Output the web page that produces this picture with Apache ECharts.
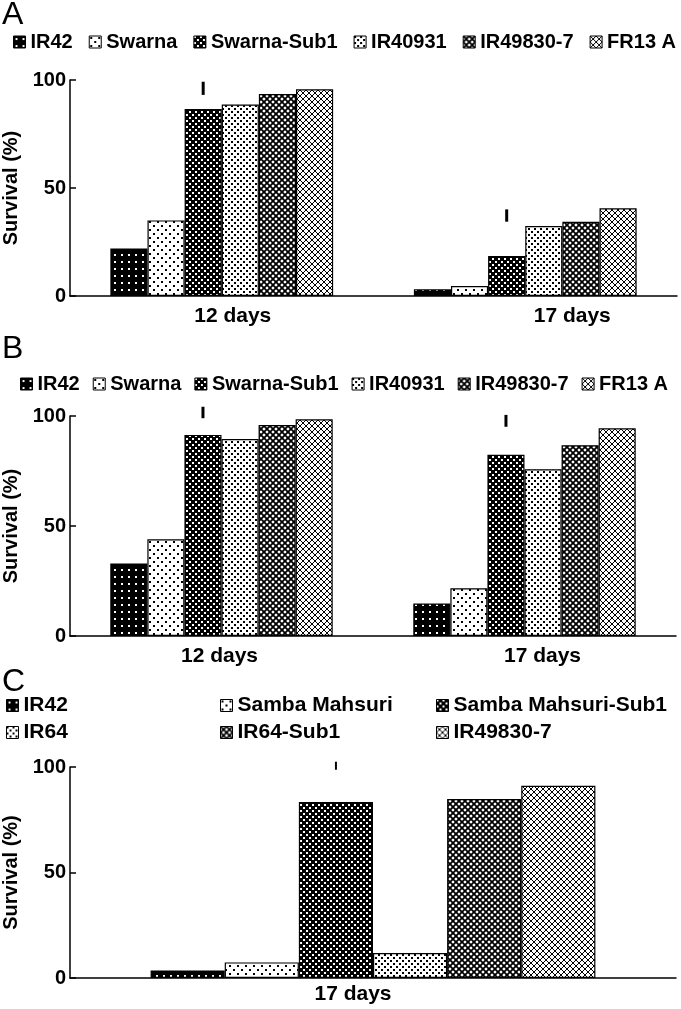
<!DOCTYPE html>
<html>
<head>
<meta charset="utf-8">
<title>Survival</title>
<script src="https://cdn.jsdelivr.net/npm/echarts@6.0.0/dist/echarts.min.js"></script>
<style>
  html, body { margin: 0; padding: 0; background: #fff; }
  #main { width: 681px; height: 1009px; }
</style>
</head>
<body>
<div id="main"></div>
<script>
// categories
const daysAB = ['12 days', '17 days'];
const daysC = ['17 days'];
const linesAB = ['IR42', 'Swarna', 'Swarna-Sub1', 'IR40931', 'IR49830-7', 'FR13 A'];
const linesC = ['IR42', 'Samba Mahsuri', 'Samba Mahsuri-Sub1', 'IR64', 'IR64-Sub1', 'IR49830-7'];

// survival (%) per line, one array per panel/day
const survA12 = [22, 35, 86.6, 88.6, 93.5, 95.7];
const survA17 = [3.1, 4.6, 18.5, 32.4, 34.4, 40.6];
const survB12 = [33, 44, 91.4, 89.5, 95.9, 98.5];
const survB17 = [14.8, 21.7, 82.4, 75.8, 86.7, 94.4];
const survC17 = [3.6, 7.4, 83.4, 11.8, 84.8, 91.1];

// error bar [low, high] per day (drawn over the Sub1 bar)
const errA = [[93.1, 99.2], [34.4, 40.1]];
const errB = [[99, 104.2], [95.1, 100.5]];
const errC = [[98.7, 102.5]];

const FONT = 'Liberation Sans, Arial, sans-serif';
const GAP = 0.266;
const ERR_SLOT = 2;

// fill patterns
function tile(size, bg, draw) {
  const c = document.createElement('canvas');
  c.width = c.height = size;
  const g = c.getContext('2d');
  g.fillStyle = bg;
  g.fillRect(0, 0, size, size);
  draw(g, size);
  return { image: c, repeat: 'repeat' };
}
function dots(size, bg, fg, pts, d) {
  return tile(size, bg, function (g) {
    g.fillStyle = fg;
    pts.forEach(function (p) { g.fillRect(p[0], p[1], d, d); });
  });
}
function hatch(size, w) {
  return tile(size, '#fff', function (g, s) {
    g.strokeStyle = '#000';
    g.lineWidth = w;
    g.beginPath();
    g.moveTo(-1, -1); g.lineTo(s + 1, s + 1);
    g.moveTo(s + 1, -1); g.lineTo(-1, s + 1);
    g.stroke();
  });
}
const fills = [
  dots(7, '#000', '#fff', [[2, 2]], 2),
  dots(8, '#fff', '#000', [[1, 1], [5, 5]], 2),
  dots(6, '#000', '#fff', [[0, 0], [3, 3]], 2),
  dots(6, '#fff', '#000', [[0, 0], [3, 3]], 2),
  hatch(6, 1.8),
  hatch(6, 1)
];

function barSeries(names, valsByDay, idx) {
  return names.map(function (n, i) {
    return {
      name: n,
      type: 'bar',
      xAxisIndex: idx,
      yAxisIndex: idx,
      barGap: 0,
      barCategoryGap: (GAP * 100) + '%',
      itemStyle: { color: fills[i], borderColor: '#000', borderWidth: 1.2 },
      emphasis: { disabled: true },
      data: valsByDay.map(function (v) { return v[i]; })
    };
  });
}

function errSeries(err, idx, w) {
  return {
    type: 'custom',
    xAxisIndex: idx,
    yAxisIndex: idx,
    clip: false,
    silent: true,
    encode: { x: 0, y: [1, 2] },
    data: err.map(function (e, k) { return [k, e[0], e[1]]; }),
    renderItem: function (params, api) {
      const cat = api.value(0);
      const band = api.size([1, 0])[0];
      const inner = band * (1 - GAP);
      const cx = api.coord([cat, 0])[0] - inner / 2 + inner / 6 * (ERR_SLOT + 0.5);
      const y1 = api.coord([cat, api.value(2)])[1];
      const y2 = api.coord([cat, api.value(1)])[1];
      return {
        type: 'line',
        shape: { x1: cx, y1: y1, x2: cx, y2: y2 },
        style: { stroke: '#000', lineWidth: w }
      };
    }
  };
}

function legendItems(names, idxs) {
  return idxs.map(function (i) {
    return { name: names[i], itemStyle: { color: fills[i], borderColor: '#000', borderWidth: 1 } };
  });
}
function legend(names, idxs, left, top, size, gap, orient) {
  return {
    orient: orient || 'horizontal',
    left: left, top: top, padding: 0,
    itemGap: gap, itemWidth: 12, itemHeight: 12,
    icon: 'rect', selectedMode: false,
    textStyle: { fontFamily: FONT, fontWeight: 'bold', fontSize: size, color: '#000', lineHeight: size },
    data: legendItems(names, idxs)
  };
}

function xAxis(idx, days, shifts) {
  return {
    type: 'category',
    gridIndex: idx,
    data: days.map(function (d, k) {
      const s = shifts[k];
      return { value: d, textStyle: { padding: s >= 0 ? [0, 0, 0, 2 * s] : [0, -2 * s, 0, 0] } };
    }),
    axisLine: { lineStyle: { color: '#000', width: 1.5 } },
    axisTick: { inside: true, length: 7, lineStyle: { color: '#000', width: 1.5 } },
    axisLabel: { fontFamily: FONT, fontWeight: 'bold', fontSize: 21, color: '#000', margin: idx === 2 ? 6 : 10 },
    splitLine: { show: false }
  };
}
function yAxis(idx) {
  return {
    type: 'value',
    gridIndex: idx,
    min: 0, max: 100, interval: 50,
    name: 'Survival (%)',
    nameLocation: 'middle',
    nameRotate: 90,
    nameGap: 48,
    nameTextStyle: { fontFamily: FONT, fontWeight: 'bold', fontSize: 20, color: '#000' },
    axisLine: { show: true, lineStyle: { color: '#000', width: 1.5 } },
    axisTick: { show: true, inside: true, length: 6, lineStyle: { color: '#000', width: 1.5 } },
    axisLabel: { fontFamily: FONT, fontWeight: 'bold', fontSize: 20, color: '#000', margin: 4 },
    splitLine: { show: false }
  };
}

const panelTitle = function (t, top) {
  return { text: t, left: 2, top: top, padding: 0,
    textStyle: { fontFamily: FONT, fontWeight: 'normal', fontSize: 32, color: '#000' } };
};

const option = {
  animation: false,
  backgroundColor: '#fff',
  title: [panelTitle('A', -1), panelTitle('B', 333), panelTitle('C', 666)],
  legend: [
    legend(linesAB, [0, 1, 2, 3, 4, 5], 13, 32, 20, 16),
    legend(linesAB, [0, 1, 2, 3, 4, 5], 20, 374, 20, 13),
    legend(linesC, [0, 3], 6, 695, 21, 6, 'vertical'),
    legend(linesC, [1, 4], 220, 695, 21, 6, 'vertical'),
    legend(linesC, [2, 5], 436, 695, 21, 6, 'vertical')
  ],
  grid: [
    { left: 70, right: 4, top: 80, height: 216, outerBoundsMode: 'none' },
    { left: 70, right: 5, top: 416, height: 220, outerBoundsMode: 'none' },
    { left: 70, right: 5, top: 767, height: 211, outerBoundsMode: 'none' }
  ],
  xAxis: [xAxis(0, daysAB, [11, 47]), xAxis(1, daysAB, [-2, 18]), xAxis(2, daysC, [-20])],
  yAxis: [yAxis(0), yAxis(1), yAxis(2)],
  series: [].concat(
    barSeries(linesAB, [survA12, survA17], 0),
    barSeries(linesAB, [survB12, survB17], 1),
    barSeries(linesC, [survC17], 2),
    [errSeries(errA, 0, 3), errSeries(errB, 1, 3), errSeries(errC, 2, 2)]
  )
};

const myChart = echarts.init(document.getElementById('main'));
myChart.setOption(option);
</script>
</body>
</html>
